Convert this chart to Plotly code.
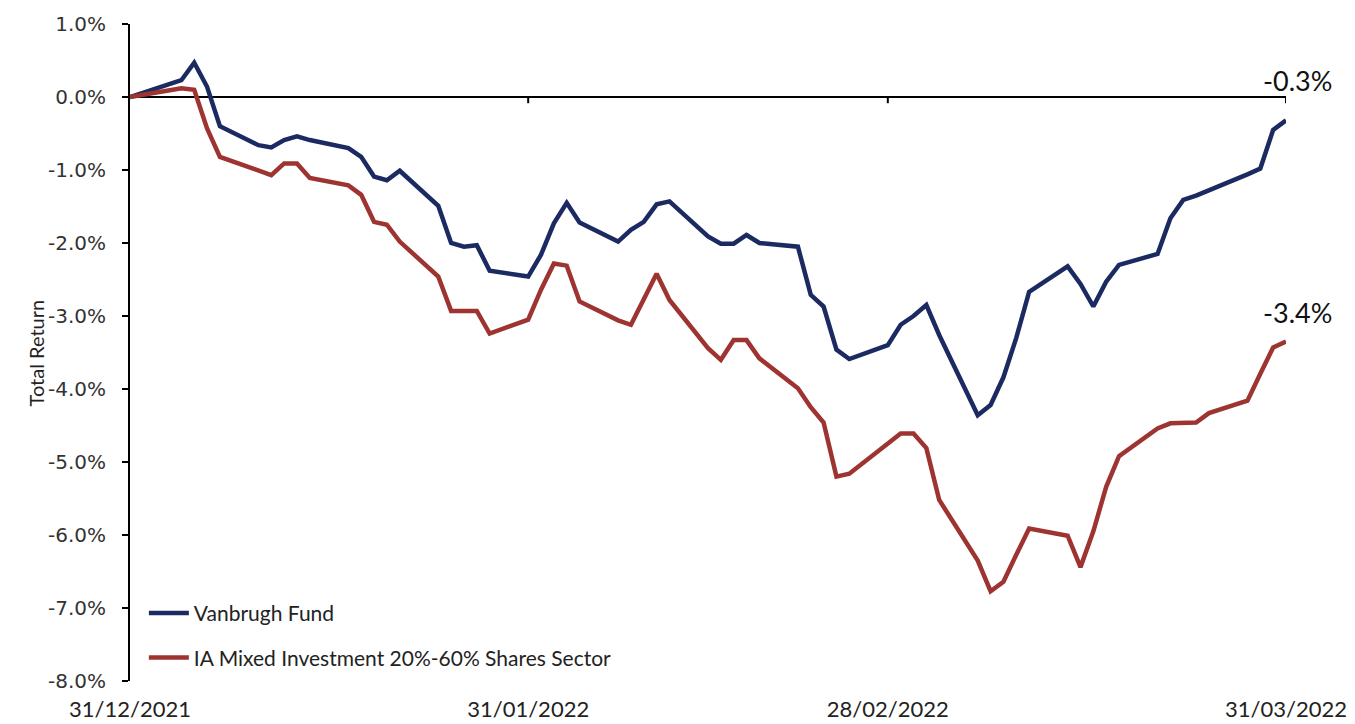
import plotly.graph_objects as go

dates = [
    "2021-12-31",
    "2022-01-04", "2022-01-05", "2022-01-06", "2022-01-07",
    "2022-01-10", "2022-01-11", "2022-01-12", "2022-01-13", "2022-01-14",
    "2022-01-17", "2022-01-18", "2022-01-19", "2022-01-20", "2022-01-21",
    "2022-01-24", "2022-01-25", "2022-01-26", "2022-01-27", "2022-01-28",
    "2022-01-31", "2022-02-01", "2022-02-02", "2022-02-03", "2022-02-04",
    "2022-02-07", "2022-02-08", "2022-02-09", "2022-02-10", "2022-02-11",
    "2022-02-14", "2022-02-15", "2022-02-16", "2022-02-17", "2022-02-18",
    "2022-02-21", "2022-02-22", "2022-02-23", "2022-02-24", "2022-02-25",
    "2022-02-28", "2022-03-01", "2022-03-02", "2022-03-03", "2022-03-04",
    "2022-03-07", "2022-03-08", "2022-03-09", "2022-03-10", "2022-03-11",
    "2022-03-14", "2022-03-15", "2022-03-16", "2022-03-17", "2022-03-18",
    "2022-03-21", "2022-03-22", "2022-03-23", "2022-03-24", "2022-03-25",
    "2022-03-28", "2022-03-29", "2022-03-30", "2022-03-31",
]

vanbrugh = [
    0.00,
    0.23, 0.47, 0.14, -0.40,
    -0.66, -0.69, -0.59, -0.54, -0.59,
    -0.70, -0.82, -1.09, -1.14, -1.01,
    -1.49, -2.00, -2.05, -2.03, -2.38,
    -2.46, -2.16, -1.73, -1.45, -1.72,
    -1.98, -1.82, -1.71, -1.47, -1.43,
    -1.91, -2.01, -2.01, -1.89, -2.00,
    -2.05, -2.71, -2.87, -3.46, -3.59,
    -3.40, -3.12, -3.00, -2.85, -3.26,
    -4.36, -4.22, -3.84, -3.30, -2.67,
    -2.32, -2.56, -2.87, -2.53, -2.30,
    -2.15, -1.66, -1.41, -1.35, -1.28,
    -1.06, -0.98, -0.45, -0.32,
]

sector = [
    0.00,
    0.12, 0.10, -0.43, -0.82,
    -1.00, -1.07, -0.91, -0.91, -1.11,
    -1.21, -1.34, -1.71, -1.75, -1.98,
    -2.46, -2.93, -2.93, -2.93, -3.24,
    -3.05, -2.64, -2.28, -2.31, -2.80,
    -3.06, -3.12, -2.77, -2.42, -2.78,
    -3.44, -3.60, -3.33, -3.33, -3.58,
    -3.99, -4.25, -4.46, -5.20, -5.16,
    -4.74, -4.61, -4.61, -4.81, -5.52,
    -6.35, -6.77, -6.64, -6.27, -5.91,
    -6.01, -6.44, -5.95, -5.34, -4.92,
    -4.54, -4.47, -4.47, -4.46, -4.33,
    -4.16, -3.79, -3.43, -3.35,
]

series_names = ["Vanbrugh Fund", "IA Mixed Investment 20%-60% Shares Sector"]
series_colors = ["#1c2a62", "#9e3431"]
end_labels = ["-0.3%", "-3.4%"]
x_ticks = ["2021-12-31", "2022-01-31", "2022-02-28", "2022-03-31"]
x_tick_text = ["31/12/2021", "31/01/2022", "28/02/2022", "31/03/2022"]
y_ticks = [1, 0, -1, -2, -3, -4, -5, -6, -7, -8]
y_tick_text = ["1.0%", "0.0%", "-1.0%", "-2.0%", "-3.0%", "-4.0%", "-5.0%", "-6.0%", "-7.0%", "-8.0%"]

fig = go.Figure()
for i, (name, vals) in enumerate(zip(series_names, [vanbrugh, sector])):
    fig.add_trace(go.Scatter(
        x=dates, y=vals, mode="lines", name=name,
        legendgroup=f"g{i}",
        line=dict(color=series_colors[i], width=4.5),
    ))

# end value labels
for i, (vals, txt, ysh) in enumerate(zip([vanbrugh, sector], end_labels, [40, 29])):
    fig.add_annotation(
        x=dates[-1], y=vals[-1], text=txt, showarrow=False,
        xshift=11, yshift=ysh,
        font=dict(family="Lato", size=27, color="#111111"),
    )

# y-axis title
fig.add_annotation(
    xref="paper", yref="paper", x=-0.0935, y=0.5,
    text="Total Return", textangle=-90, showarrow=False,
    font=dict(family="Lato", size=20, color="#222222"),
)

# small tick marks on the zero line
for t in x_ticks[1:]:
    fig.add_shape(type="line", xref="x", yref="y", x0=t, x1=t, y0=0, y1=-0.085,
                  line=dict(color="black", width=2))

fig.update_layout(
    width=1355, height=724,
    margin=dict(l=130, r=69, t=24, b=43),
    plot_bgcolor="white", paper_bgcolor="white",
    showlegend=True,
    legend=dict(
        x=0.012, y=0.134, xanchor="left", yanchor="top",
        bgcolor="rgba(0,0,0,0)",
        font=dict(family="Lato", size=21, color="#222222"),
        tracegroupgap=14, traceorder="grouped",
        itemwidth=40,
    ),
    xaxis=dict(
        type="date", range=["2021-12-31", "2022-03-31"],
        tickvals=x_ticks, ticktext=x_tick_text,
        showgrid=False, zeroline=False, showline=False, ticks="",
        ticklabelstandoff=13, automargin=False,
        tickfont=dict(family="Lato", size=22, color="#222222"),
    ),
    yaxis=dict(
        range=[-8, 1], tickvals=y_ticks, ticktext=y_tick_text,
        showgrid=False, showline=True, linecolor="black", linewidth=2,
        ticks="outside", ticklen=6, tickwidth=2, tickcolor="black",
        zeroline=True, zerolinecolor="black", zerolinewidth=2,
        ticklabelstandoff=12, automargin=False,
        tickfont=dict(family="DejaVu Sans", size=20, color="#333333"),
    ),
)

fig.write_html("out.html")
